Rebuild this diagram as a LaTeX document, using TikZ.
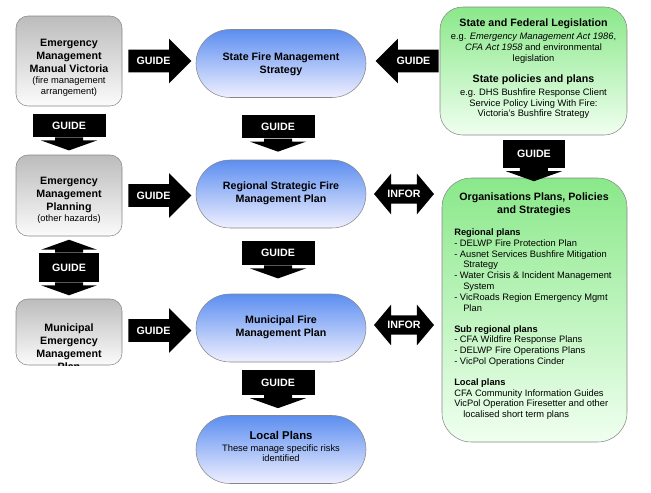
\documentclass[tikz,border=0pt]{standalone}
\usepackage{fontspec}
\setmainfont{Liberation Sans}
\usetikzlibrary{shapes.arrows, shapes.misc, calc, positioning}

\definecolor{graytop}{RGB}{188,188,188}
\definecolor{bluetop}{RGB}{92,142,240}
\definecolor{greentop}{RGB}{138,232,138}
\definecolor{boxline}{RGB}{135,135,135}

\newcommand{\sml}{\mdseries\fontsize{7}{8.2}\selectfont}
%% punta della freccia sotto / sopra un box GUIDE
\newcommand{\headdown}[1]{\fill ($(#1.south)+(-14,0)$) -- ++(0,3) -- ++(-14,0) -- ++(28,10) -- ++(28,-10) -- ++(-14,0) -- ++(0,-3) -- cycle;}
\newcommand{\headup}[1]{\fill ($(#1.north)+(-14,0)$) -- ++(0,-3) -- ++(-14,0) -- ++(28,-10) -- ++(28,10) -- ++(-14,0) -- ++(0,3) -- cycle;}

\tikzset{
  graybox/.style={draw=boxline, rounded corners=9pt, top color=graytop, bottom color=white!97!gray, minimum width=79.5pt, inner sep=0pt},
  bluebox/.style={rounded rectangle, draw=boxline, top color=bluetop, bottom color=white!94!blue, minimum width=127.5pt, minimum height=51pt, inner sep=0pt},
  greenbox/.style={draw=boxline, rounded corners=17pt, top color=greentop, bottom color=white!94!green, inner sep=0pt},
  boxtext/.style={align=center, inner sep=0pt, font=\bfseries\fontsize{8}{9.75}\selectfont},
  listtext/.style={align=left, inner sep=0pt, font=\fontsize{7}{8.1}\selectfont},
  guidetext/.style={text=white, inner sep=0pt, font=\bfseries\fontsize{8}{9}\selectfont},
  guideR/.style={single arrow, fill=black, inner xsep=0pt, inner ysep=8.25pt, single arrow head extend=8.25pt, minimum height=47.25pt},
  inforLR/.style={double arrow, fill=black, inner xsep=0pt, inner ysep=7pt, double arrow head extend=8pt, double arrow tip angle=100, minimum height=45pt},
  guideD/.style={fill=black, inner sep=0pt, minimum width=54.75pt, minimum height=17.25pt, text=white, font=\bfseries\fontsize{8}{9}\selectfont},
}

\begin{document}
\begin{tikzpicture}[x=0.75pt, y=-0.75pt]
\useasboundingbox (0,0) rectangle (651,493);

%% ---- Colonna sinistra (grigio) ----
\node[graybox, minimum height=67.5pt] (emmv) at (69,61) {};
\node[graybox, minimum height=60.75pt] (emp) at (69,195.5) {};
\node[graybox, minimum height=49.5pt] (memp) at (69,332) {};
\node[boxtext] (emmvtxt) at (69,68) {Emergency\\Management\\Manual Victoria\\[-1.5pt]{\sml(fire management}\\[-1.5pt]{\sml arrangement)}};
\node[boxtext] (emptxt) at (69,200) {Emergency\\Management\\Planning\\[-1.5pt]{\sml(other hazards)}};
\begin{scope}
  \clip[rounded corners=9pt] (memp.south west) rectangle (memp.north east);
  \node[boxtext] (memptxt) at (69,347.5) {Municipal\\Emergency\\Management\\Plan};
\end{scope}

%% ---- Colonna centrale (blu) ----
\node[bluebox] (sfms) at (281,63.5) {};
\node[bluebox] (rsfmp) at (281,194) {};
\node[bluebox] (mfmp) at (281,328) {};
\node[bluebox] (local) at (281,449.5) {};
\node[boxtext] (sfmstxt) at (281,64.5) {State Fire Management\\Strategy};
\node[boxtext] (rsfmptxt) at (281,193.5) {Regional Strategic Fire\\Management Plan};
\node[boxtext] (mfmptxt) at (281,327.5) {Municipal Fire\\Management Plan};
\node[boxtext] (localtxt) at (281,446.5) {{\fontsize{8.5}{9.75}\selectfont Local Plans}\\[-0.75pt]{\sml These manage specific risks}\\[-2.25pt]{\sml identified}};

%% ---- Colonna destra (verde) ----
\node[greenbox, minimum width=140.25pt, minimum height=96pt] (legis) at (533.5,71) {};
\node[greenbox, minimum width=138.75pt, minimum height=198pt, rounded corners=22pt] (orgs) at (534.5,310) {};
\node[listtext, align=center] (legistxt) at (533.5,69) {{\bfseries\fontsize{8}{9.75}\selectfont State and Federal Legislation}\\[1.6pt]
  e.g. \textit{Emergency Management Act 1986},\\
  \textit{CFA Act 1958} and environmental\\
  legislation\\[7.6pt]
  {\bfseries\fontsize{8}{9.75}\selectfont State policies and plans}\\[1.6pt]
  e.g. DHS Bushfire Response Client\\
  Service Policy Living With Fire:\\
  Victoria's Bushfire Strategy};
\node[boxtext] (orgshead) at (534,204) {Organisations Plans, Policies\\and Strategies};
\node[listtext, anchor=north west] (orgslist) at (454,228.5) {\textbf{Regional plans}\\
  - DELWP Fire Protection Plan\\
  - Ausnet Services Bushfire Mitigation\\
  \hspace*{6.75pt}Strategy\\
  - Water Crisis \& Incident Management\\
  \hspace*{6.75pt}System\\
  - VicRoads Region Emergency Mgmt\\
  \hspace*{6.75pt}Plan\\[7.6pt]
  \textbf{Sub regional plans}\\
  - CFA Wildfire Response Plans\\
  - DELWP Fire Operations Plans\\
  - VicPol Operations Cinder\\[7.6pt]
  \textbf{Local plans}\\
  CFA Community Information Guides\\
  VicPol Operation Firesetter and other\\
  \hspace*{6.75pt}localised short term plans};

%% ---- Frecce GUIDE orizzontali ----
\node[guideR, anchor=tip] (ga1) at ($(sfms.west |- emmv.east)+(-4,0)$) {};
\node[guidetext] (ga1txt) at ($(ga1.tail)!0.4!(ga1.tip)$) {GUIDE};
\node[guideR, anchor=tip] (ga2) at ($(rsfmp.west |- emp.east)+(-4,0)$) {};
\node[guidetext] (ga2txt) at ($(ga2.tail)!0.4!(ga2.tip)$) {GUIDE};
\node[guideR, anchor=tip] (ga3) at ($(mfmp.west |- memp.east)+(-4,-1.5)$) {};
\node[guidetext] (ga3txt) at ($(ga3.tail)!0.4!(ga3.tip)$) {GUIDE};
\node[guideR, anchor=tip, shape border rotate=180] (gl1) at ($(sfms.east |- emmv.east)+(9,0)$) {};
\node[guidetext] (gl1txt) at ($(gl1.tail)!0.4!(gl1.tip)$) {GUIDE};

%% ---- Frecce INFOR ----
\node[inforLR] (ia1) at ($(rsfmp.east)!0.5!(rsfmp.east -| orgs.west)$) {};
\node[guidetext] (ia1txt) at (ia1) {INFOR};
\node[inforLR] (ia2) at ($($(mfmp.east)!0.5!(mfmp.east -| orgs.west)$)+(0,-3)$) {};
\node[guidetext] (ia2txt) at (ia2) {INFOR};

%% ---- Frecce GUIDE verticali ----
\node[guideD] (gd1) at ($(emmv.south)!0.4!(emp.north)$) {GUIDE};
\headdown{gd1}
\node[guideD] (gd2) at ($(sfms.south)!0.47!(rsfmp.north)+(-3,0)$) {GUIDE};
\headdown{gd2}
\node[guideD, minimum height=18pt] (gd3) at ($(rsfmp.south)!0.38!(mfmp.north)+(-3,0)$) {GUIDE};
\headdown{gd3}
\node[guideD, minimum height=18.75pt] (gd4) at ($(mfmp.south)!0.38!(local.north)+(-3,0)$) {GUIDE};
\headdown{gd4}
\node[guideD, minimum width=46.5pt, minimum height=21pt] (gd5) at ($(legis.south)!0.44!(orgs.north)$) {GUIDE};
\headdown{gd5}
\node[guideD, minimum width=45pt, minimum height=21.75pt] (gdd) at ($(emp.south)!0.5!(memp.north)$) {GUIDE};
\headup{gdd}
\headdown{gdd}

\end{tikzpicture}
\end{document}
